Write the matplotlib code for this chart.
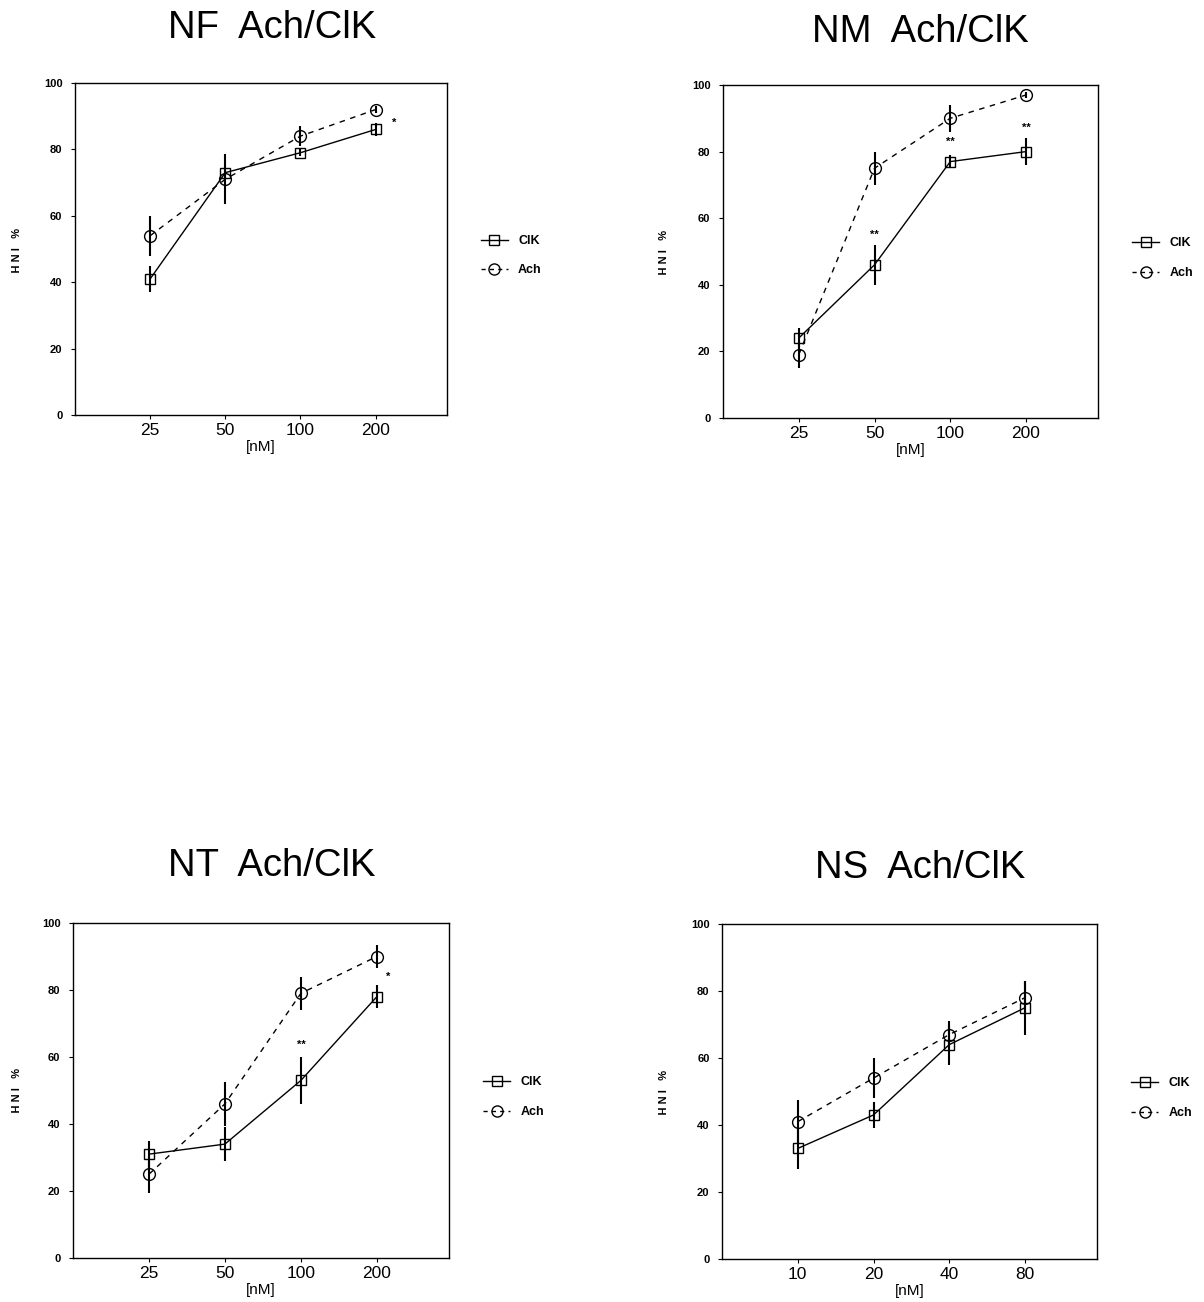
import matplotlib
matplotlib.use("Agg")
import matplotlib.pyplot as plt
from matplotlib.lines import Line2D

plt.rcParams['font.family'] = ['Liberation Sans', 'DejaVu Sans']

# ---------------- data ----------------
titles = ["NF  Ach/ClK", "NM  Ach/ClK", "NT  Ach/ClK", "NS  Ach/ClK"]
xlabels_nm = ["25", "50", "100", "200"]
xlabels_ns = ["10", "20", "40", "80"]

nf_clk = [41, 73, 79, 86]
nf_clk_err = [4, 2, 1, 2]
nf_ach = [54, 71, 84, 92]
nf_ach_err = [6, 7.5, 3, 1]
nf_stars = [(4.25, 88, "*")]

nm_clk = [24, 46, 77, 80]
nm_clk_err = [3, 6, 2, 4]
nm_ach = [19, 75, 90, 97]
nm_ach_err = [4, 5, 4, 1]
nm_stars = [(2, 55, "**"), (3, 83, "**"), (4, 87, "**")]

nt_clk = [31, 34, 53, 78]
nt_clk_err = [4, 5, 7, 3.5]
nt_ach = [25, 46, 79, 90]
nt_ach_err = [5.5, 6.5, 5, 3.5]
nt_stars = [(3, 63.5, "**"), (4.15, 84, "*")]

ns_clk = [33, 43, 64, 75]
ns_clk_err = [6, 4, 6, 8]
ns_ach = [41, 54, 67, 78]
ns_ach_err = [6.5, 6, 4, 5]
ns_stars = []

yticks = [0, 20, 40, 60, 80, 100]

panels = [
    (titles[0], xlabels_nm, nf_clk, nf_clk_err, nf_ach, nf_ach_err, nf_stars),
    (titles[1], xlabels_nm, nm_clk, nm_clk_err, nm_ach, nm_ach_err, nm_stars),
    (titles[2], xlabels_nm, nt_clk, nt_clk_err, nt_ach, nt_ach_err, nt_stars),
    (titles[3], xlabels_ns, ns_clk, ns_clk_err, ns_ach, ns_ach_err, ns_stars),
]

# axes rectangles in pixels: left, top, right, bottom
W, H = 1204, 1302
rects_px = [
    (75, 83, 447, 415),
    (723, 85, 1098, 418),
    (73, 923, 449, 1258),
    (722, 924, 1097, 1259),
]
title_px = [(272, 28), (920, 32), (272, 866), (920, 868)]
ylabel_px = [(13, 250), (660, 252), (13, 1090), (660, 1092)]

fig = plt.figure(figsize=(W / 100, H / 100), dpi=100)

for (title, xl, clk, clk_e, ach, ach_e, stars), (l, t, r, b), (tx, ty), (yx, yy) in zip(
        panels, rects_px, title_px, ylabel_px):
    ax = fig.add_axes([l / W, 1 - b / H, (r - l) / W, (b - t) / H])
    x = list(range(1, len(xl) + 1))
    ax.errorbar(x, clk, yerr=clk_e, color='black', lw=1.0, ls='-', marker='s',
                ms=7.5, mfc='none', mec='black', mew=1.0, elinewidth=1.5, capsize=0)
    ax.errorbar(x, ach, yerr=ach_e, color='black', lw=1.0, ls=(0, (4, 4)), marker='o',
                ms=8.5, mfc='none', mec='black', mew=1.0, elinewidth=1.5, capsize=0)
    for sx, sy, s in stars:
        ax.text(sx, sy, s, ha='center', va='center', fontsize=8, fontweight='bold')
    ax.set_xlim(0, 4.95)
    ax.set_ylim(0, 100)
    ax.set_xticks(x)
    ax.set_xticklabels(xl, fontsize=12.5)
    ax.set_yticks(yticks)
    ax.set_yticklabels([str(v) for v in yticks], fontsize=8, fontweight='bold')
    ax.tick_params(axis='both', direction='out', length=3, width=0.8, pad=3)
    ax.tick_params(axis='y', pad=6)
    for sp in ax.spines.values():
        sp.set_linewidth(1.0)
    ax.set_xlabel("[nM]", fontsize=11, labelpad=1)
    fig.text(yx / W, 1 - yy / H, "%   I N H", rotation=-90, ha='center', va='center',
             fontsize=8, fontweight='bold')
    fig.text(tx / W, 1 - ty / H, title, ha='center', va='center', fontsize=27.5)

    handles = [
        Line2D([], [], color='black', lw=1.0, ls='-', marker='s', ms=7, mfc='none', mew=1.0),
        Line2D([], [], color='black', lw=1.0, ls=(0, (3, 3)), marker='o', ms=8, mfc='none', mew=1.0),
    ]
    ax.legend(handles, ["ClK", "Ach"], loc='center left', bbox_to_anchor=(1.06, 0.48),
              frameon=False, prop={'size': 9, 'weight': 'bold'}, handlelength=2.2,
              labelspacing=1.4)

fig.savefig("out.png", dpi=100)
